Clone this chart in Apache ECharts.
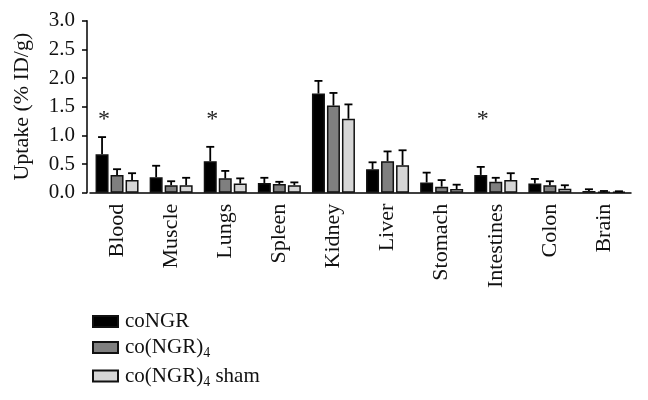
<!DOCTYPE html>
<html>
<head>
<meta charset="utf-8">
<script src="https://cdn.jsdelivr.net/npm/echarts@6/dist/echarts.min.js"></script>
<style>html,body{margin:0;padding:0;background:#fff}#c{width:648px;height:400px}</style>
</head>
<body>
<div id="c"></div>
<script>
var categories = ['Blood','Muscle','Lungs','Spleen','Kidney','Liver','Stomach','Intestines','Colon','Brain'];
var coNGR      = [0.67,0.27,0.55,0.17,1.73,0.41,0.18,0.31,0.16,0.03];
var coNGRSd    = [0.30,0.20,0.25,0.09,0.22,0.12,0.17,0.14,0.08,0.03];
var coNGR4     = [0.31,0.13,0.25,0.15,1.52,0.55,0.105,0.19,0.13,0.015];
var coNGR4Sd   = [0.10,0.07,0.13,0.04,0.22,0.17,0.115,0.07,0.07,0.015];
var sham       = [0.22,0.13,0.16,0.13,1.29,0.48,0.065,0.22,0.07,0.015];
var shamSd     = [0.12,0.13,0.09,0.05,0.25,0.26,0.075,0.12,0.06,0.01];
var starCats   = ['Blood','Lungs','Intestines'];
var starLevel  = 1.33;
var yTicks     = [0,0.5,1.0,1.5,2.0,2.5,3.0];
var seriesNames = ['coNGR','co(NGR)4','co(NGR)4 sham'];

var FONT = 'Liberation Serif';
var BAR_W = 13, GAP = 2;
var colors = ['#000000','#7f7f7f','#d6d6d6'];

function errSeries(idx, means, sds) {
  var data = means.map(function (m, i) { return [i, m, m + sds[i]]; });
  return {
    type: 'custom', name: seriesNames[idx] + ' err', z: 3,
    data: data,
    encode: {x: 0, y: [1, 2]},
    renderItem: function (params, api) {
      var c = api.value(0);
      var lo = api.coord([c, api.value(1)]);
      var hi = api.coord([c, api.value(2)]);
      var x = lo[0] + (idx - 1) * (BAR_W + GAP);
      var cap = 4;
      var st = {stroke: '#000', lineWidth: 1.8};
      return {type: 'group', children: [
        {type: 'line', shape: {x1: x, y1: lo[1], x2: x, y2: hi[1]}, style: st},
        {type: 'line', shape: {x1: x - cap, y1: hi[1], x2: x + cap, y2: hi[1]}, style: st}
      ]};
    }
  };
}

function barSeries(idx, vals) {
  return {
    type: 'bar', name: seriesNames[idx], data: vals, barWidth: BAR_W, barGap: (GAP / BAR_W * 100) + '%',
    itemStyle: {color: colors[idx], borderColor: '#111', borderWidth: 1.5}, z: 2
  };
}

var chart = echarts.init(document.getElementById('c'));
chart.setOption({
  animation: false,
  textStyle: {fontFamily: FONT},
  grid: {left: 90, right: 17, top: 20.7, bottom: 207.3},
  legend: {
    orient: 'vertical', left: 87, top: 306,
    data: seriesNames.map(function (n) { return {name: n, icon: 'rect'}; }),
    itemWidth: 25, itemHeight: 11, itemGap: 5,
    textStyle: {fontFamily: FONT, fontSize: 21, color: '#111', padding: [0, 0, 0, 2],
      rich: {s: {fontFamily: FONT, fontSize: 14, color: '#111', padding: [12, 0, 0, 0]}}},
    formatter: function (n) {
      if (n === 'co(NGR)4') return 'co(NGR){s|4}';
      if (n === 'co(NGR)4 sham') return 'co(NGR){s|4} sham';
      return n;
    }
  },
  xAxis: {
    type: 'category', data: categories,
    axisLine: {lineStyle: {color: '#000', width: 1.5}},
    axisTick: {alignWithLabel: true, length: 5, lineStyle: {color: '#000', width: 1.5}},
    axisLabel: {rotate: 90, margin: 11, fontFamily: FONT, fontSize: 22, color: '#111'}
  },
  yAxis: {
    type: 'value', min: 0, max: 3, interval: 0.5, offset: 3,
    name: 'Uptake (% ID/g)', nameLocation: 'middle', nameGap: 54,
    nameTextStyle: {fontFamily: FONT, fontSize: 22, color: '#111'},
    axisLine: {show: true, lineStyle: {color: '#000', width: 1.5}},
    axisTick: {show: true, length: 5, lineStyle: {color: '#000', width: 1.5}},
    splitLine: {show: false},
    axisLabel: {margin: 12, fontFamily: FONT, fontSize: 21, color: '#111',
      formatter: function (v) { return yTicks.indexOf(v) >= 0 ? v.toFixed(1) : ''; }}
  },
  series: [
    barSeries(0, coNGR), barSeries(1, coNGR4), barSeries(2, sham),
    errSeries(0, coNGR, coNGRSd), errSeries(1, coNGR4, coNGR4Sd), errSeries(2, sham, shamSd),
    {
      type: 'custom', name: 'sig', z: 4,
      data: starCats.map(function (c) { return [categories.indexOf(c), starLevel]; }),
      encode: {x: 0, y: 1},
      renderItem: function (params, api) {
        var p = api.coord([api.value(0), api.value(1)]);
        return {type: 'text', x: p[0] - (BAR_W + GAP) + 2, y: p[1] + 3,
          style: {text: '*', fontFamily: FONT, fontSize: 24, fill: '#222', align: 'center', verticalAlign: 'middle'}};
      }
    }
  ]
});
</script>
</body>
</html>
